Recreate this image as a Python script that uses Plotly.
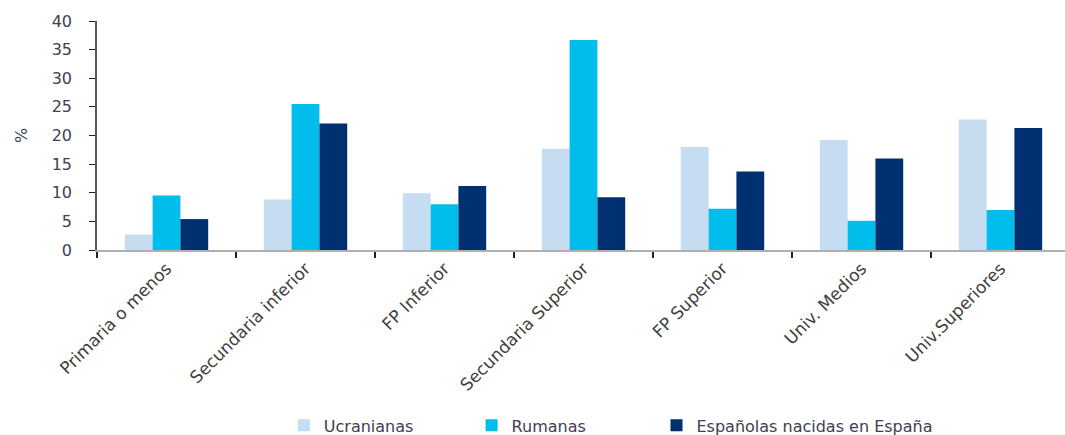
import plotly.graph_objects as go

categories = ["Primaria o menos", "Secundaria inferior", "FP Inferior", "Secundaria Superior",
              "FP Superior", "Univ. Medios", "Univ.Superiores"]
ucranianas = [2.7, 8.8, 9.9, 17.7, 18.0, 19.2, 22.8]
rumanas = [9.5, 25.5, 8.0, 36.7, 7.2, 5.1, 7.0]
espanolas = [5.4, 22.1, 11.2, 9.2, 13.7, 16.0, 21.3]
series_names = ["Ucranianas", "Rumanas", "Españolas nacidas en España"]
colors = ["#C6DCF0", "#00BDEB", "#003070"]
y_ticks = [0, 5, 10, 15, 20, 25, 30, 35, 40]

legend_ids = ["legend", "legend2", "legend3"]
legend_x = [0.193, 0.387, 0.578]

fig = go.Figure()
for name, vals, col, lg in zip(series_names, [ucranianas, rumanas, espanolas], colors, legend_ids):
    fig.add_trace(go.Bar(x=categories, y=vals, name=name, marker_color=col,
                         marker_line_width=0, legend=lg))

legend_common = dict(orientation="h", yref="container", y=0.022, yanchor="middle",
                     xanchor="left", font=dict(size=16, color="#404050"),
                     bgcolor="rgba(0,0,0,0)", itemwidth=30)

fig.update_layout(
    width=1065, height=435,
    margin=dict(l=97, r=0, t=21, b=185, autoexpand=False),
    paper_bgcolor="white", plot_bgcolor="white",
    barmode="group", bargap=0.4, bargroupgap=0,
    font=dict(family="DejaVu Sans", color="#404040", size=15),
    legend=dict(x=legend_x[0], **legend_common),
    legend2=dict(x=legend_x[1], **legend_common),
    legend3=dict(x=legend_x[2], **legend_common),
    showlegend=True,
)
fig.update_xaxes(
    range=[-0.5, 6.464], tickson="boundaries", ticks="outside", ticklen=6,
    tickcolor="#222", tickwidth=1.5, tickangle=-45, automargin=False,
    showline=True, linecolor="#B0B0B0", linewidth=2, showgrid=False,
    tickfont=dict(size=17, color="#404040"),
)
fig.update_yaxes(
    range=[0, 40], tickvals=y_ticks, ticks="outside", ticklen=6, tickcolor="#222",
    showline=True, linecolor="#555", linewidth=1.5, showgrid=False, zeroline=False,
    automargin=False, ticklabelstandoff=14,
    tickfont=dict(size=16, color="#404050"),
    title=dict(text="%", font=dict(size=16, color="#404050"), standoff=20),
)
fig.write_html("out.html")
